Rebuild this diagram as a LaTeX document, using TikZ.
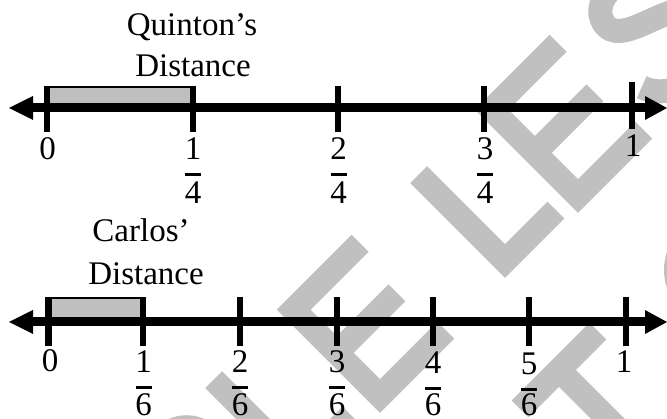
\documentclass[tikz,border=0pt]{standalone}
\usepackage{fontspec}
\setmainfont{Liberation Serif}
\definecolor{boxgray}{RGB}{191,191,191}
\definecolor{wmgray}{RGB}{192,192,192}
% fraction label: name, x, numerator baseline, denominator baseline, numerator, denominator
\newcommand\fracmark[6]{%
  \node[numtext] (#1n) at (#2,#3) {#5};
  \node[numtext] (#1d) at (#2,#4) {#6};
  \draw[fracbar] (#2-8,#3+15) -- (#2+8,#3+15);
}
\begin{document}
\begin{tikzpicture}[x=1pt,y=-1pt,
  numtext/.style={inner sep=0pt, anchor=base, font=\fontsize{33}{40}\selectfont},
  axisline/.style={line width=9pt},
  tickmark/.style={line width=6.5pt},
  fracbar/.style={line width=3pt},
  shade/.style={draw=black, line width=1.5pt, fill=boxgray},
  wmstroke/.style={draw=wmgray, line width=24pt, line cap=butt, line join=miter},
]
\useasboundingbox (0,0) rectangle (667,419);

% ---- watermark lettering, rotated 45 degrees ----
\begin{scope}
  \clip (0,0) rectangle (667,419);
  % P
  \begin{scope}[shift={(236,537)}, x=1pt, y=1pt, rotate=45]
    \draw[wmstroke] (0,0) -- (0,122) -- (20,122) arc[start angle=90, end angle=-90, radius=32] -- (0,58);
  \end{scope}
  % L
  \begin{scope}[shift={(300,466)}, x=1pt, y=1pt, rotate=45]
    \draw[wmstroke] (0,122) -- (0,0) -- (72,0);
  \end{scope}
  % E
  \begin{scope}[shift={(380,396)}, x=1pt, y=1pt, rotate=45]
    \draw[wmstroke] (94,122) -- (0,122) -- (0,0) -- (93,0);
    \draw[wmstroke] (0,61) -- (85,61);
  \end{scope}
  % L
  \begin{scope}[shift={(505,261)}, x=1pt, y=1pt, rotate=45]
    \draw[wmstroke] (0,122) -- (0,0) -- (72,0);
  \end{scope}
  % E
  \begin{scope}[shift={(578,196)}, x=1pt, y=1pt, rotate=45]
    \draw[wmstroke] (94,122) -- (0,122) -- (0,0) -- (93,0);
    \draw[wmstroke] (0,61) -- (85,61);
  \end{scope}
  % S
  \begin{scope}[shift={(662.9,111.2)}, x=1pt, y=1pt, rotate=45]
    \draw[wmstroke] (92,106) .. controls (82,120) and (68,123) .. (50,123)
      .. controls (30,123) and (20,112) .. (20,100)
      .. controls (20,70) and (100,75) .. (100,33)
      .. controls (100,8) and (80,0) .. (55,0)
      .. controls (28,0) and (8,14) .. (2,32);
  \end{scope}
  % T
  \begin{scope}[shift={(559,370)}, x=1pt, y=1pt, rotate=45]
    \draw[wmstroke] (-55,0) -- (55,0);
    \draw[wmstroke] (0,0) -- (0,-130);
  \end{scope}
  % round letter at the right edge
  \draw[wmstroke] (720,270) circle[radius=44];
\end{scope}

% ---- Quinton's number line (fourths) ----
\node[numtext] (qname) at (192,36) {Quinton’s};
\node[numtext] (qdist) at (193,77) {Distance};
\draw[shade] (47,87) rectangle (193,108);
\coordinate (qL) at (9,108);
\coordinate (qR) at (667,108);
\draw[axisline] (30,108) -- (648,108);
\fill (qL) -- ++(24,-12) -- ++(0,24) -- cycle;
\fill (qR) -- ++(-22,-12) -- ++(0,24) -- cycle;
\foreach \x in {47,193,338,484} \draw[tickmark] (\x,86) -- (\x,132);
\draw[tickmark] (632,82) -- (632,129);
\node[numtext] (q0) at (47.5,160) {0};
\fracmark{qa}{193}{160}{204}{1}{4}
\fracmark{qb}{338.5}{160}{204}{2}{4}
\fracmark{qc}{485}{160}{204}{3}{4}
\node[numtext] (q1) at (633,157) {1};

% ---- Carlos' number line (sixths) ----
\node[numtext] (cname) at (141,242) {Carlos’};
\node[numtext] (cdist) at (146,285) {Distance};
\draw[shade] (48.5,298) rectangle (143,322);
\coordinate (cL) at (9,322);
\coordinate (cR) at (667,322);
\draw[axisline] (30,322) -- (648,322);
\fill (cL) -- ++(24,-12) -- ++(0,24) -- cycle;
\fill (cR) -- ++(-22,-12) -- ++(0,24) -- cycle;
\foreach \x in {48.5,143,240,337,433,529,626} \draw[tickmark] (\x,297) -- (\x,346);
\node[numtext] (c0) at (50,372) {0};
\fracmark{ca}{143.5}{373}{416}{1}{6}
\fracmark{cb}{240}{373}{416}{2}{6}
\fracmark{cc}{337}{373}{416}{3}{6}
\fracmark{cd}{433}{374}{416}{4}{6}
\fracmark{ce}{529}{375}{416}{5}{6}
\node[numtext] (c1) at (624,373) {1};
\end{tikzpicture}
\end{document}
